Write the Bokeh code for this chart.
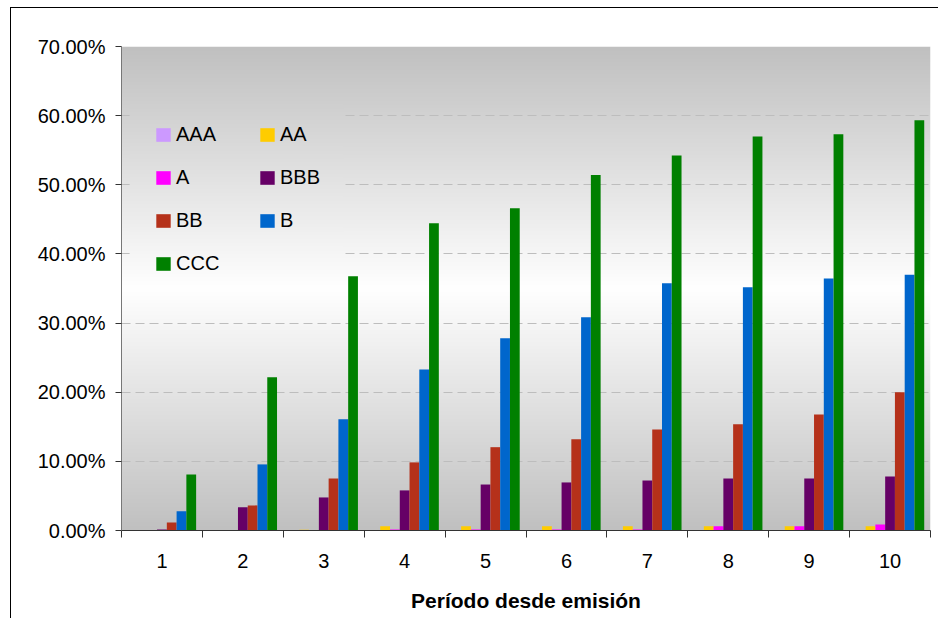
import numpy as np
from bokeh.plotting import figure
from bokeh.models import (FixedTicker, PrintfTickFormatter, Legend, LegendItem,
                          Range1d, ColumnDataSource)
from bokeh.embed import file_html
from bokeh.resources import INLINE

# Cumulative default rate (%) by rating and period since issuance
periods = [1, 2, 3, 4, 5, 6, 7, 8, 9, 10]
ratings = ["AAA", "AA", "A", "BBB", "BB", "B", "CCC"]
aaa = [0.0, 0.0, 0.0, 0.0, 0.0, 0.0, 0.0, 0.0, 0.0, 0.0]
aa = [0.0, 0.0, 0.1, 0.6, 0.6, 0.6, 0.6, 0.6, 0.6, 0.6]
a = [0.0, 0.0, 0.0, 0.15, 0.15, 0.15, 0.15, 0.6, 0.6, 0.87]
bbb = [0.15, 3.35, 4.78, 5.8, 6.65, 6.95, 7.23, 7.52, 7.52, 7.81]
bb = [1.17, 3.63, 7.52, 9.85, 12.05, 13.18, 14.62, 15.36, 16.79, 19.99]
b = [2.77, 9.56, 16.1, 23.3, 27.8, 30.84, 35.75, 35.18, 36.45, 37.0]
ccc = [8.1, 22.15, 36.78, 44.43, 46.6, 51.4, 54.25, 57.0, 57.3, 59.35]
series = [aaa, aa, a, bbb, bb, b, ccc]
colors = ["#CC99FF", "#FFCC00", "#FF00FF", "#660066", "#B5311A", "#0066CC", "#008000"]
y_ticks = [0, 10, 20, 30, 40, 50, 60, 70]

FONT = "Liberation Sans"
Y_MAX = 70
X_LO, X_HI = periods[0] - 0.5, periods[-1] + 0.5

p = figure(width=928, height=611, x_range=Range1d(X_LO, X_HI), y_range=Range1d(0, Y_MAX),
           output_backend="svg", toolbar_location=None,
           min_border_left=110, min_border_right=9, min_border_top=38, min_border_bottom=89)
p.outline_line_color = None
p.border_fill_color = "white"
p.background_fill_color = "white"
p.styles = {"border-left": "1px solid #000000", "border-top": "1px solid #000000"}
p.margin = (7, 0, 0, 10)


def shade(y_lo, y_hi, rows):
    """Grey-white-grey vertical gradient (white in the middle) as an RGBA image."""
    ys = y_lo + (np.arange(rows) + 0.5) / rows * (y_hi - y_lo)
    t = np.abs(ys - Y_MAX / 2) / (Y_MAX / 2)
    g = np.clip(255 - 63 * t, 0, 255).astype(np.uint8)
    img = np.empty((rows, 1), dtype=np.uint32)
    view = img.view(dtype=np.uint8).reshape((rows, 1, 4))
    view[:, 0, 0] = g
    view[:, 0, 1] = g
    view[:, 0, 2] = g
    view[:, 0, 3] = 255
    return img


# plot-area background
p.image_rgba(image=[shade(0, Y_MAX, 484)], x=X_LO, y=0, dw=X_HI - X_LO, dh=Y_MAX, level="image")

# the legend box hides the gridlines behind it
leg_x0, leg_x1, leg_y0, leg_y1 = 0.6, 3.24, 37.3, 62.2
p.image_rgba(image=[shade(leg_y0, leg_y1, 200)], x=leg_x0, y=leg_y0,
             dw=leg_x1 - leg_x0, dh=leg_y1 - leg_y0, level="glyph")

# grouped bars
group = 0.845
bw = group / len(ratings)
renderers = []
for i, (name, vals, col) in enumerate(zip(ratings, series, colors)):
    xs = [k + (i - (len(ratings) - 1) / 2) * bw for k in periods]
    src = ColumnDataSource(dict(x=xs, top=vals))
    r = p.vbar(x="x", top="top", width=bw, source=src, fill_color=col, line_color=None)
    renderers.append(r)

legend = Legend(items=[LegendItem(label=n, renderers=[r]) for n, r in zip(ratings, renderers)],
                location=(33, 255), orientation="horizontal", ncols=2,
                glyph_width=18, glyph_height=17, label_standoff=4, spacing=20,
                label_width=62, label_height=20, padding=0, margin=0,
                border_line_color=None, background_fill_alpha=0,
                label_text_font=FONT, label_text_font_size="20px", label_text_color="black")
p.add_layout(legend)

# grid
p.xgrid.visible = False
p.ygrid.ticker = FixedTicker(ticks=y_ticks[1:-1])
p.ygrid.grid_line_color = "#bdbdbd"
p.ygrid.grid_line_dash = "9 5"
p.ygrid.grid_line_width = 1

# x axis: labels centred on categories, tick marks between them
xa = p.xaxis[0]
xa.ticker = FixedTicker(ticks=periods, minor_ticks=[k - 0.5 for k in periods] + [periods[-1] + 0.5])
xa.major_tick_out = 0
xa.major_tick_in = 0
xa.minor_tick_out = 7
xa.minor_tick_in = 0
xa.minor_tick_line_color = "#333333"
xa.axis_line_color = "#333333"
xa.major_label_standoff = 16
xa.major_label_text_font = FONT
xa.major_label_text_font_size = "20px"
xa.major_label_text_color = "black"
xa.axis_label = "Período desde emisión"
xa.axis_label_text_font = FONT
xa.axis_label_text_font_style = "bold"
xa.axis_label_text_font_size = "21px"
xa.axis_label_text_color = "black"
xa.axis_label_standoff = 18

ya = p.yaxis[0]
ya.ticker = FixedTicker(ticks=y_ticks)
ya.formatter = PrintfTickFormatter(format="%.2f%%")
ya.major_tick_out = 6
ya.major_tick_in = 0
ya.minor_tick_out = 0
ya.minor_tick_in = 0
ya.major_tick_line_color = "#333333"
ya.axis_line_color = "#777777"
ya.major_label_standoff = 10
ya.major_label_text_font = FONT
ya.major_label_text_font_size = "20px"
ya.major_label_text_color = "black"

open("out.html", "w").write(file_html(p, INLINE))
